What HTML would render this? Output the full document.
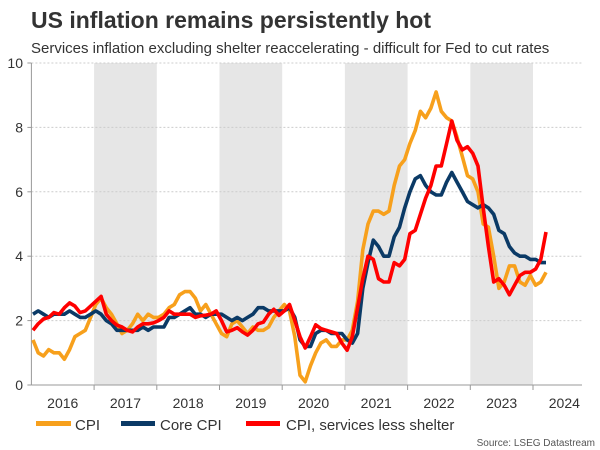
<!DOCTYPE html>
<html><head><meta charset="utf-8"><style>
body{margin:0;background:#fff;}
svg{display:block;font-family:"Liberation Sans",Arial,sans-serif;}
</style></head><body>
<svg id="chart" width="600" height="450">
<text x="31" y="28" font-size="23" font-weight="bold" fill="#333">US inflation remains persistently hot</text>
<text x="31" y="53" font-size="15" fill="#333">Services inflation excluding shelter reaccelerating - difficult for Fed to cut rates</text>
<g id="bands"></g><g id="grid"></g><g id="axes"></g><g id="lines"></g>
<g>
<g><rect x="36" y="421" width="35" height="5" fill="#f7a01c"/><text x="75" y="430" font-size="15" fill="#333">CPI</text></g>
<g><rect x="121" y="421" width="34" height="5" fill="#0b3a66"/><text x="160" y="430" font-size="15" fill="#333">Core CPI</text></g>
<g><rect x="246" y="421" width="34" height="5" fill="#f00"/><text x="286" y="430" font-size="15" fill="#333">CPI, services less shelter</text></g>
</g>
<text x="595" y="446" font-size="10" fill="#555" text-anchor="end">Source: LSEG Datastream</text>
</svg>
<script>
const years=["2016","2017","2018","2019","2020","2021","2022","2023","2024"];
const yTicks=[0,2,4,6,8,10];
const cpi=[1.4,1.0,0.9,1.1,1.0,1.0,0.8,1.1,1.5,1.6,1.7,2.1,
2.5,2.7,2.4,2.2,1.9,1.6,1.7,1.9,2.2,2.0,2.2,2.1,
2.1,2.2,2.4,2.5,2.8,2.9,2.9,2.7,2.3,2.5,2.2,1.9,
1.6,1.5,1.9,2.0,1.8,1.6,1.8,1.7,1.7,1.8,2.1,2.3,
2.5,2.3,1.5,0.3,0.1,0.6,1.0,1.3,1.4,1.2,1.2,1.4,
1.4,1.7,2.6,4.2,5.0,5.4,5.4,5.3,5.4,6.2,6.8,7.0,
7.5,7.9,8.5,8.3,8.6,9.1,8.5,8.3,8.2,7.7,7.1,6.5,
6.4,6.0,5.0,4.9,4.0,3.0,3.2,3.7,3.7,3.2,3.1,3.4,
3.1,3.2,3.5];
const core=[2.2,2.3,2.2,2.1,2.2,2.2,2.2,2.3,2.2,2.1,2.1,2.2,
2.3,2.2,2.0,1.9,1.7,1.7,1.7,1.7,1.7,1.8,1.7,1.8,
1.8,1.8,2.1,2.1,2.2,2.3,2.4,2.2,2.2,2.1,2.2,2.2,
2.2,2.1,2.0,2.1,2.0,2.1,2.2,2.4,2.4,2.3,2.3,2.3,
2.3,2.4,2.1,1.4,1.2,1.2,1.6,1.7,1.7,1.6,1.6,1.6,
1.4,1.3,1.6,3.0,3.8,4.5,4.3,4.0,4.0,4.6,4.9,5.5,
6.0,6.4,6.5,6.2,6.0,5.9,5.9,6.3,6.6,6.3,6.0,5.7,
5.6,5.5,5.6,5.5,5.3,4.8,4.7,4.3,4.1,4.0,4.0,3.9,
3.9,3.8,3.8];
const services=[1.7,1.9,2.05,2.1,2.25,2.2,2.4,2.55,2.45,2.25,2.3,2.45,
2.6,2.75,2.2,2.0,1.86,1.8,1.7,1.65,1.8,1.9,1.9,1.93,
2.0,2.1,2.3,2.2,2.2,2.2,2.2,2.1,2.15,2.17,2.2,2.3,
2.0,1.65,1.7,1.78,1.65,1.55,1.7,1.9,1.95,2.2,2.35,2.16,
2.3,2.5,2.0,1.5,1.15,1.5,1.87,1.75,1.7,1.65,1.6,1.3,
1.08,1.5,2.4,3.3,4.0,3.9,3.3,3.2,3.2,3.8,3.7,3.9,
4.7,4.8,5.3,5.8,6.2,6.8,6.8,7.5,8.2,7.6,7.3,7.4,
7.2,6.8,5.5,4.3,3.2,3.3,3.1,2.8,3.1,3.4,3.5,3.5,
3.6,3.9,4.75];
const NS="http://www.w3.org/2000/svg";
const X0=31.4,PX_MONTH=62.7/12,Y0=385,PX_UNIT=32.2,RIGHT=582;
const xm=i=>33+i*5.235;
const yv=v=>Y0-v*PX_UNIT;
function mk(tag,attrs,parent){const e=document.createElementNS(NS,tag);for(const k in attrs)e.setAttribute(k,attrs[k]);parent.appendChild(e);return e;}
const bands=document.getElementById('bands'),grid=document.getElementById('grid'),axes=document.getElementById('axes'),lines=document.getElementById('lines');
years.forEach((y,i)=>{
 const xa=X0+i*12*PX_MONTH;
 if(i%2===1){const r=mk('rect',{x:xa,y:yv(10),width:Math.min(12*PX_MONTH,RIGHT-xa),height:10*PX_UNIT,fill:'#e6e6e6'},bands);
 
 }
 const t=mk('text',{x:xa+6*PX_MONTH,y:408,'font-size':14,fill:'#333','text-anchor':'middle'},axes);t.textContent=y;
 
 
 if(i>0){const tk=mk('line',{x1:xa,x2:xa,y1:Y0,y2:Y0+5,stroke:'#999'},axes);
 
 }
});
yTicks.forEach(v=>{
 if(v>0){const g=mk('line',{x1:X0,x2:RIGHT,y1:yv(v),y2:yv(v),stroke:'#ccc','stroke-dasharray':'2,2'},grid);
 
 }
 const t=mk('text',{x:23,y:yv(v)+5,'font-size':14,fill:'#333','text-anchor':'end'},axes);t.textContent=v;
 
 
 const tk=mk('line',{x1:X0-4,x2:X0,y1:yv(v),y2:yv(v),stroke:'#999'},axes);
 
 
});
const ax=mk('line',{x1:X0,x2:X0,y1:yv(10),y2:Y0,stroke:'#999'},axes);


const bx=mk('line',{x1:X0,x2:RIGHT,y1:Y0,y2:Y0,stroke:'#999'},axes);


function line(arr,color,name){
 const p=mk('polyline',{points:arr.map((v,i)=>xm(i).toFixed(1)+','+yv(v).toFixed(1)).join(' '),fill:'none',stroke:color,'stroke-width':3.6,'stroke-linejoin':'round'},lines);
 
 
}
line(cpi,'#f7a01c','line-cpi');
line(core,'#0b3a66','line-core-cpi');
line(services,'#f00','line-services-less-shelter');
</script>
</body></html>
